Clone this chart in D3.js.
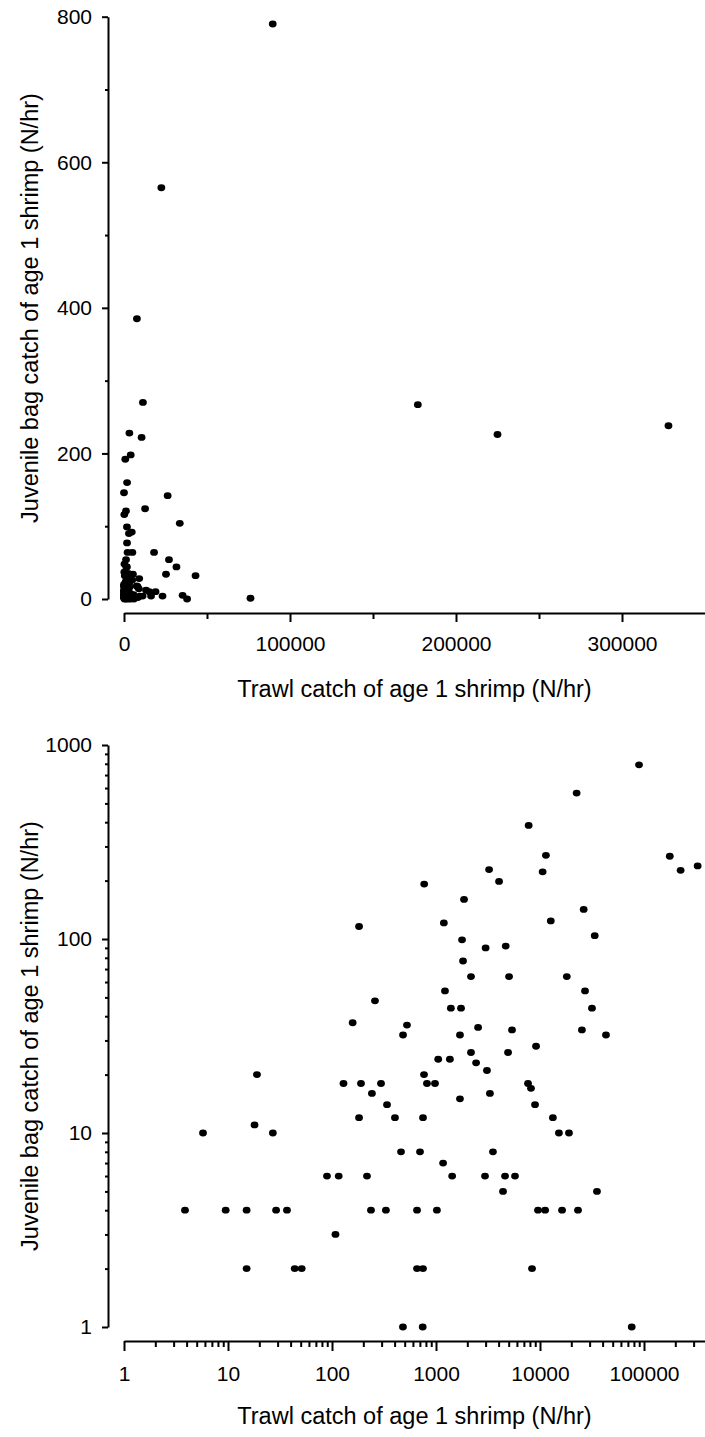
<!DOCTYPE html>
<html>
<head>
<meta charset="utf-8">
<script src="https://cdn.jsdelivr.net/npm/d3@7"></script>
<style>
  body { margin: 0; background: #fff; }
  text { font-family: "Liberation Sans", Arial, sans-serif; fill: #000; }
</style>
</head>
<body>
<div class="chart"></div>
<script>
// Trawl catch vs juvenile bag catch of age 1 shrimp (N/hr)
var svgWidth = 705;
var svgHeight = 1437;

// Each point: trawl catch (x) and juvenile bag catch (y)
var trawlCatch = [
  182, 259, 158, 89600, 22500, 7780, 11400, 3240, 10600, 4040,
  770, 177000, 225000, 328000, 1860, 26300, 1190, 12700, 33600, 1780,
  3000, 4680, 1820, 2170, 5040, 18100, 1220, 27100, 1390, 1740,
  31600, 526, 2540, 5380, 25300, 482, 1700, 43100, 9160, 2170,
  4930, 1050, 1360, 2430, 3090, 767, 19, 190, 296, 819,
  978, 7670, 129, 8190, 242, 3300, 1700, 338, 8960, 182,
  403, 750, 13300, 18, 5.75, 27, 15200, 19000, 461, 702,
  3530, 1170, 89.5, 116, 217, 1430, 2960, 4610, 5750, 4410,
  35300, 3.86, 9.5, 15.1, 29, 36.9, 237, 330, 657, 1020,
  9570, 11200, 16300, 23200, 108, 15.1, 43.8, 51.1, 657, 750,
  8380, 481, 745, 76200,
  // zero catches (only visible on the linear panel)
  0, 38000, 300, 1200, 2500, 4000, 6000
];
var bagCatch = [
  116, 48, 37, 790, 565, 385, 270, 228, 222, 198,
  192, 267, 226, 238, 160, 142, 121, 124, 104, 99,
  90, 92, 77, 64, 64, 64, 54, 54, 44, 44,
  44, 36, 35, 34, 34, 32, 32, 32, 28, 26,
  26, 24, 24, 23, 21, 20, 20, 18, 18, 18,
  18, 18, 18, 17, 16, 16, 15, 14, 14, 12,
  12, 12, 12, 11, 10, 10, 10, 10, 8, 8,
  8, 7, 6, 6, 6, 6, 6, 6, 6, 5,
  5, 4, 4, 4, 4, 4, 4, 4, 4, 4,
  4, 4, 4, 4, 3, 2, 2, 2, 2, 2,
  2, 1, 1, 1,
  146, 0, 0, 0, 0, 0, 0
];

// tick values
var linXTicks = [0, 100000, 200000, 300000];
var linXMinor = [50000, 150000, 250000];
var linYTicks = [0, 200, 400, 600, 800];
var linYMinor = [100, 300, 500, 700];
var logXTicks = [1, 10, 100, 1000, 10000, 100000];
var logYTicks = [1, 10, 100, 1000];

var xTitle = "Trawl catch of age 1 shrimp (N/hr)";
var yTitle = "Juvenile bag catch of age 1 shrimp (N/hr)";

var Data = trawlCatch.map(function (x, i) {
  return { trawl: x, bag: bagCatch[i] };
});

function minorLog(maxExp, maxVal) {
  var out = [];
  for (var e = 0; e <= maxExp; e++) {
    for (var k = 2; k <= 9; k++) {
      var v = k * Math.pow(10, e);
      if (v <= maxVal) out.push(v);
    }
  }
  return out;
}

var svg = d3.select(".chart")
  .append("svg")
  .attr("width", svgWidth)
  .attr("height", svgHeight);

// scales
var xLin = d3.scaleLinear().domain([0, 350000]).range([124, 705]);
var yLin = d3.scaleLinear().domain([0, 800]).range([599, 16.7]);
var xLog = d3.scaleLog().domain([1, 386000]).range([124, 705]);
var yLog = d3.scaleLog().domain([1, 1000]).range([1327, 745]);

function styleAxis(g) {
  g.attr("font-family", null).attr("font-size", null);
  g.select(".domain").attr("stroke", "#000").attr("stroke-width", 2);
  g.selectAll(".tick line").attr("stroke", "#000").attr("stroke-width", 2);
  g.selectAll(".tick text").style("font-size", "21px");
}

function minorAxis(g) {
  g.select(".domain").remove();
  g.selectAll(".tick line").attr("stroke", "#000").attr("stroke-width", 2);
}

// ===== top panel (linear) =====
svg.append("g")
  .attr("transform", "translate(0, 613)")
  .call(d3.axisBottom(xLin).tickValues(linXTicks).tickSize(9).tickSizeOuter(0)
    .tickPadding(14).tickFormat(d3.format("d")))
  .call(styleAxis);
svg.append("g")
  .attr("transform", "translate(0, 613)")
  .call(d3.axisBottom(xLin).tickValues(linXMinor).tickSize(6).tickFormat(""))
  .call(minorAxis);

svg.append("g")
  .attr("transform", "translate(108, 0)")
  .call(d3.axisLeft(yLin).tickValues(linYTicks).tickSize(6).tickSizeOuter(0)
    .tickPadding(10).tickFormat(d3.format("d")))
  .call(styleAxis);
svg.append("g")
  .attr("transform", "translate(108, 0)")
  .call(d3.axisLeft(yLin).tickValues(linYMinor).tickSize(3).tickFormat(""))
  .call(minorAxis);

svg.append("g").selectAll("ellipse")
  .data(Data)
  .enter()
  .append("ellipse")
  .attr("cx", d => xLin(d.trawl))
  .attr("cy", d => yLin(d.bag))
  .attr("rx", 3.9)
  .attr("ry", 3.4)
  .attr("fill", "#000");

svg.append("text")
  .attr("x", 414.5)
  .attr("y", 697)
  .attr("text-anchor", "middle")
  .style("font-size", "23.5px")
  .text(xTitle);

svg.append("text")
  .attr("transform", "translate(38, 308) rotate(-90)")
  .attr("text-anchor", "middle")
  .style("font-size", "23.5px")
  .text(yTitle);

// ===== bottom panel (log-log) =====
svg.append("g")
  .attr("transform", "translate(0, 1341)")
  .call(d3.axisBottom(xLog).tickValues(logXTicks).tickSize(10).tickSizeOuter(0)
    .tickPadding(15).tickFormat(d3.format("d")))
  .call(styleAxis);
svg.append("g")
  .attr("transform", "translate(0, 1341)")
  .call(d3.axisBottom(xLog).tickValues(minorLog(5, 386000)).tickSize(6).tickFormat(""))
  .call(minorAxis);

svg.append("g")
  .attr("transform", "translate(108, 0)")
  .call(d3.axisLeft(yLog).tickValues(logYTicks).tickSize(6).tickSizeOuter(0)
    .tickPadding(10).tickFormat(d3.format("d")))
  .call(styleAxis);
svg.append("g")
  .attr("transform", "translate(108, 0)")
  .call(d3.axisLeft(yLog).tickValues(minorLog(2, 1000)).tickSize(3).tickFormat(""))
  .call(minorAxis);

svg.append("g").selectAll("ellipse")
  .data(Data.filter(d => d.trawl > 0 && d.bag > 0))
  .enter()
  .append("ellipse")
  .attr("cx", d => xLog(d.trawl))
  .attr("cy", d => yLog(d.bag))
  .attr("rx", 3.9)
  .attr("ry", 3.4)
  .attr("fill", "#000");

svg.append("text")
  .attr("x", 414.5)
  .attr("y", 1424)
  .attr("text-anchor", "middle")
  .style("font-size", "23.5px")
  .text(xTitle);

svg.append("text")
  .attr("transform", "translate(38, 1036) rotate(-90)")
  .attr("text-anchor", "middle")
  .style("font-size", "23.5px")
  .text(yTitle);
</script>
</body>
</html>
